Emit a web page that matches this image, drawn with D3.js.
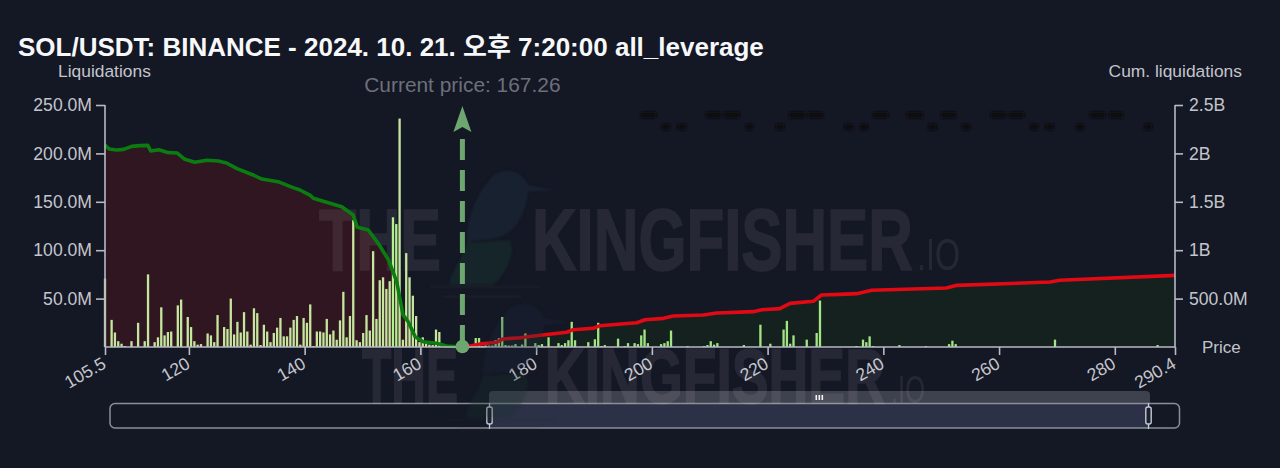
<!DOCTYPE html>
<html><head><meta charset="utf-8">
<script src="https://cdn.jsdelivr.net/npm/d3@7"></script>
<style>html,body{margin:0;padding:0;background:#141724;overflow:hidden}svg{display:block}text{font-family:"Liberation Sans",Arial,sans-serif}</style>
</head><body><svg id="c" width="1280" height="468"></svg>
<script>
const titleText = "SOL/USDT: BINANCE - 2024. 10. 21. 오후 7:20:00 all_leverage";
const currentPrice = 167.26;
const priceDomain = [105.5, 290.4];
const xTickValues = [105.5,120,140,160,180,200,220,240,260,280,290.4];
const leftTicks = [50,100,150,200,250];
const leftTickLabels = ["50.0M","100.0M","150.0M","200.0M","250.0M"];
const rightTicks = [0.5,1,1.5,2,2.5];
const rightTickLabels = ["500.0M","1B","1.5B","2B","2.5B"];
const binStart = 105.5, binStep = 0.572;
const barBins = [0,2,3,4,5,6,8,10,12,13,15,16,17,18,19,20,22,23,25,26,27,28,29,31,32,33,34,36,37,38,39,40,41,42,43,44,45,46,47,48,49,50,51,52,53,54,55,56,57,58,59,60,61,62,63,64,65,66,67,68,69,70,71,72,73,74,75,76,77,78,79,80,81,82,83,84,85,86,87,88,89,90,91,92,93,94,95,96,97,98,99,100,101,102,103,
112,113,114,115,116,117,118,119,120,121,122,123,124,126,127,130,131,132,134,137,138,139,140,141,142,146,148,149,150,151,155,157,158,160,161,162,163,164,168,169,170,171,176,181,182,183,184,185,193,198,201,205,206,207,208,212,215,216,227,229,230,231,232,240,248,255,256,257,287,318];
const barValues = [70.6,28,15,6,3.4,1,6,25,6,75,5,10,41,12,15.5,16,43,49,31,20.6,6,2.4,3,14,12,5,33,20.6,18.6,50,13,26,15,36,16,2.4,40,35,2,23,16,5,14.5,20,30,11,11,20,28,32,2.4,30,25,44,1,16,16,15,29,13,17,7.5,27.5,57,10,32,131,7,5,14.5,33,17,99,29,69,72,60,68,134,127,236,7.5,97,72,53,32,5,10,4,2.4,2,18,15.5,1,1,
9.3,9.3,1,1.5,1.5,1.5,7,9,31,2,1.5,1.5,3,2.5,14,4,2,3,10,4,2,4,7,26,7,5,8,25,1,2,8.6,1,4,4,3,12,18,4,3,4,6,17,1,1,2,6,2.4,4,2,23,3.4,18,27,3.4,12,7.6,14.5,48,1,7.6,5,11,1,2,1,3,6.5,3,7.6,2];
const shortPrices = [105.5,106.2,107.5,108.7,110.1,111.5,112.9,113.4,114.8,116.2,118,119.3,121,123.1,125.1,126.5,128.3,131.1,132.6,135.4,138,139.2,140.9,141.5,143.8,146.4,148.4,149.1,151,152.7,154.5,155.9,157,157.9,159.1,160.5,162.8,164.5,167.26];
const shortCum = [2.087,2.045,2.035,2.042,2.073,2.08,2.083,2.025,2.038,2.011,2.004,1.939,1.908,1.929,1.921,1.901,1.842,1.777,1.735,1.708,1.646,1.622,1.57,1.536,1.495,1.449,1.364,1.236,1.209,1.071,0.899,0.675,0.331,0.261,0.106,0.055,0.038,0.01,0];
const longPrices = [167.26,168,170.3,173.2,174.3,177.2,180.7,185.3,186.4,189.9,191,197.4,198.8,202,203.7,208.9,211.2,217.5,219,222.1,223.9,227.9,229.3,232.5,235.4,238,250.9,252.7,268.8,270.5,290.4];
const longCum = [0,0.003,0.031,0.049,0.083,0.096,0.121,0.152,0.179,0.193,0.22,0.251,0.282,0.296,0.32,0.331,0.351,0.365,0.385,0.396,0.451,0.472,0.537,0.544,0.551,0.586,0.609,0.637,0.671,0.689,0.74];
const redactRow1 = [[641,656],[706,721],[724,739.5],[789,805],[808,823],[873,888],[907,923],[941,956],[991,1006],[1009,1024],[1090,1105],[1109,1123]];
const redactRow2 = [[662,670],[677.5,686],[746,753],[776,784],[844.5,853],[860,867.6],[928.5,936.5],[962,970],[1030.5,1038],[1045.6,1053.6],[1076,1084],[1144.5,1152]];

const svg = d3.select("#c");
const defs = svg.append("defs");
defs.append("filter").attr("id","blur").append("feGaussianBlur").attr("stdDeviation",0.8);
defs.append("filter").attr("id","soft").append("feGaussianBlur").attr("stdDeviation",1);
const x = d3.scaleLinear().domain(priceDomain).range([105,1175]);
const yL = d3.scaleLinear().domain([0,250]).range([347,105]);
const yR = d3.scaleLinear().domain([0,2.5]).range([347,105]);
const axisCol = "#b7bac4", labelCol = "#c3c5cc";

function zip(a,b){return a.map((v,i)=>[v,b[i]]);}
const short = zip(shortPrices,shortCum), long = zip(longPrices,longCum);
const line = d3.line().x(d=>x(d[0])).y(d=>yR(d[1]));
const area = d3.area().x(d=>x(d[0])).y0(yR(0)).y1(d=>yR(d[1]));

svg.append("path").datum(short).attr("d",area).attr("fill","#2f1621");
svg.append("path").datum(long).attr("d",area).attr("fill","#15211f");

// watermarks
function fitText(g,str,x0,x1,base,size,weightBold){
  const t=g.append("text").attr("font-size",size).text(str);
  if(weightBold) t.attr("font-weight","bold").attr("stroke","#fff").attr("stroke-width",1.6).style("font-family",'"Liberation Sans Narrow","Liberation Sans",sans-serif');
  const w=t.node().getComputedTextLength();
  t.attr("transform",`translate(${x0},${base}) scale(${(x1-x0)/w},1)`);
}
function watermark(g,o){
  const w=g.append("g").attr("fill","#fff").attr("opacity",0.075);
  fitText(w,"THE",o.the[0],o.the[1],o.base,o.size,true);
  fitText(w,"KINGFISHER",o.k[0],o.k[1],o.base,o.size,true);
  const w2=g.append("g").attr("fill","#fff").attr("opacity",0.07);
  fitText(w2,".IO",o.io[0],o.io[1],o.base,o.size*0.5,false);
  const b=g.append("g").attr("transform",`translate(${o.bird[0]},${o.bird[1]})`).attr("opacity",o.birdOp).attr("filter","url(#soft)");
  b.append("path").attr("fill","#1a2b3b").attr("d","M26,14 C33,0 58,-3 66,17 L93,22 L66,24 C64,47 53,64 38,69 C28,72 18,70 5,75 C4,52 14,27 26,14Z");
  b.append("path").attr("fill","#19302f").attr("d","M5,75 L48,72 C50,82 51,80 50,84 C46,102 38,112 30,117 L-12,117 C-14,107 -2,97 5,75Z");
  b.append("path").attr("fill","#232d33").attr("d","M-32,118h110v1.5h-110z M-20,128h80v1.5h-80z");
}
watermark(svg.append("g"),{the:[319,441],k:[532,913],io:[917,960],base:270,size:88,bird:[462,168],birdOp:0.55});
const slider = svg.append("g");

// axes
const axL = d3.axisLeft(yL).tickValues(leftTicks).tickFormat((d,i)=>leftTickLabels[i]).tickSize(9).tickPadding(4);
const axR = d3.axisRight(yR).tickValues(rightTicks).tickFormat((d,i)=>rightTickLabels[i]).tickSize(8).tickPadding(6);
const axB = d3.axisBottom(x).tickValues(xTickValues).tickFormat(d=>String(d)).tickSize(8).tickPadding(7);

// bars
const bars = barBins.map((b,i)=>({price:binStart+b*binStep,v:barValues[i]}));
svg.append("g").selectAll("rect").data(bars).join("rect")
  .attr("x",d=>x(d.price)-1.15).attr("width",2.3)
  .attr("y",d=>yL(d.v)).attr("height",d=>yL(0)-yL(d.v))
  .attr("fill",d=>d.price>currentPrice?"#a3e583":(d.price>=155&&d.price<=156?"#b4f090":"#c6e59e"));

// lines
svg.append("path").datum(short).attr("d",line).attr("fill","none").attr("stroke","#0b7c10").attr("stroke-width",3.6).attr("stroke-linejoin","round");
svg.append("path").datum(long).attr("d",line).attr("fill","none").attr("stroke","#e10a14").attr("stroke-width",3.6).attr("stroke-linejoin","round");

// axes drawn
function style(g){g.selectAll("path,line").attr("stroke",axisCol).attr("stroke-width",1.6);g.selectAll("text").attr("fill",labelCol).attr("font-size",17.6);g.attr("font-family",null);}
svg.append("g").attr("transform","translate(105,0)").call(axL).call(style).call(g=>g.select(".domain").attr("d","M0,105V347"));
svg.append("g").attr("transform","translate(1175,0)").call(axR).call(style).call(g=>g.select(".domain").attr("d","M0,105V347"));
svg.append("g").attr("transform","translate(0,347)").call(axB).call(style).call(g=>{
  g.select(".domain").attr("d","M105,0H1175");
  g.selectAll("text").attr("text-anchor","end").attr("dy",null).attr("x",2).attr("y",0).attr("transform","translate(0,21) rotate(-30)");
});

// current price marker
const cx = x(currentPrice), mk="#6ea670";
svg.append("line").attr("x1",cx).attr("x2",cx).attr("y1",yL(0)-1).attr("y2",yL(216.5))
  .attr("stroke",mk).attr("stroke-width",5).attr("stroke-dasharray","21 10");
svg.append("path").attr("transform",`translate(${cx},0)`).attr("d","M0,106 L9,132 L0,127 L-9,132Z").attr("fill",mk);
svg.append("circle").attr("cx",cx).attr("cy",yL(0)-0.5).attr("r",6.8).attr("fill",mk);

// text
svg.append("text").attr("x",cx).attr("y",92).attr("text-anchor","middle").attr("font-size",20.9).attr("fill","#6d707a").text("Current price: "+currentPrice);
svg.append("text").attr("x",18).attr("y",56).attr("font-size",26).attr("font-weight","bold").attr("fill","#f7f8fa")
  .style("font-family",'"Liberation Sans","Noto Sans CJK KR",sans-serif').text(titleText);
svg.append("text").attr("x",58).attr("y",76.5).attr("font-size",17.4).attr("fill",labelCol).text("Liquidations");
svg.append("text").attr("x",1242).attr("y",76.5).attr("text-anchor","end").attr("font-size",17.4).attr("fill",labelCol).text("Cum. liquidations");
svg.append("text").attr("x",1202).attr("y",353).attr("font-size",17).attr("fill",labelCol).text("Price");

// redacted smudges
const red = svg.append("g").attr("fill","#0a0b10").attr("filter","url(#blur)");
redactRow1.forEach(r=>red.append("rect").attr("x",r[0]).attr("width",r[1]-r[0]).attr("y",112).attr("height",6));
redactRow2.forEach(r=>red.append("rect").attr("x",r[0]).attr("width",r[1]-r[0]).attr("y",124).attr("height",6));

// data zoom
slider.append("path").attr("d","M489,403V395Q489,391 493,391H1146Q1150,391 1150,395V403Z").attr("fill","#3e414e");
slider.append("rect").attr("x",489).attr("y",403.5).attr("width",661).attr("height",24.5).attr("fill","#2c3147");
slider.append("rect").attr("x",110).attr("y",403.5).attr("width",1069.5).attr("height",24.5).attr("rx",5).attr("fill","none").attr("stroke","#8b8e99").attr("stroke-width",1.5);
[815.5,818.5,821.5].forEach(v=>slider.append("rect").attr("x",v).attr("y",395).attr("width",1.6).attr("height",5).attr("fill","#f2f3f6"));
[489.5,1148.5].forEach(v=>{
  slider.append("line").attr("x1",v).attr("x2",v).attr("y1",403).attr("y2",429).attr("stroke","#c5c8d6").attr("stroke-width",1.3);
  slider.append("rect").attr("x",v-2.7).attr("y",407).attr("width",5.4).attr("height",17).attr("rx",2).attr("fill","#1e2230").attr("stroke","#c5c8d6").attr("stroke-width",1.4);
});
// second watermark over the axis band
watermark(svg.append("g"),{the:[362,458],k:[545,885],io:[891,925],base:403,size:78,bird:[478,301],birdOp:0.3});
</script></body></html>
